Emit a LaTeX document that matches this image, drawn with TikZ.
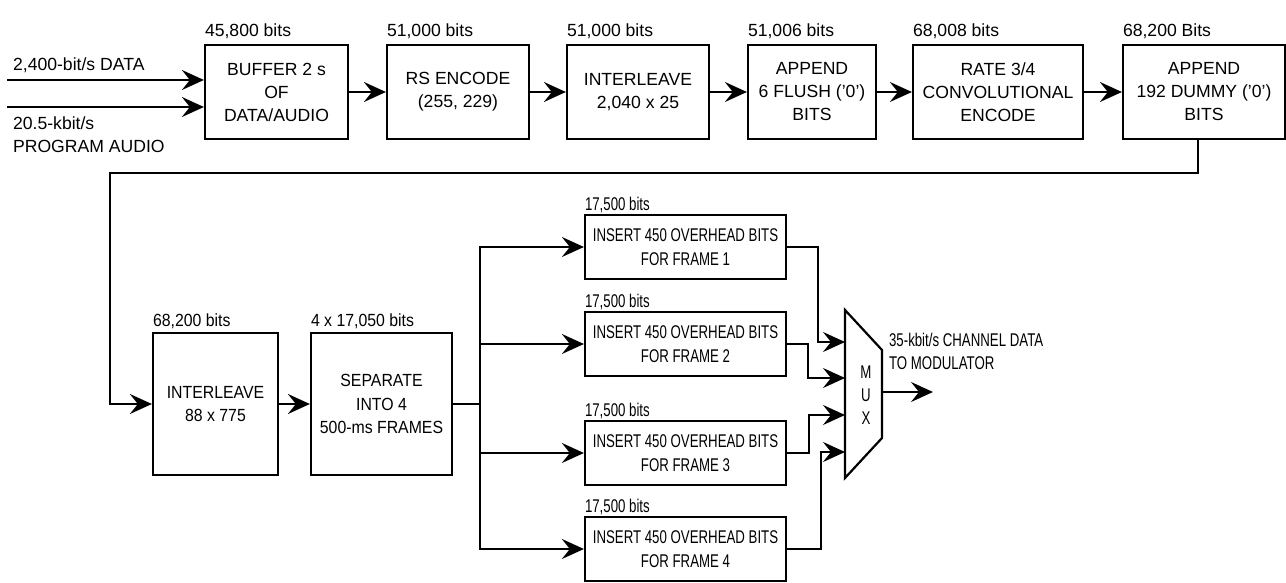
\documentclass[tikz,border=0pt]{standalone}
\usepackage{fontspec}
\setmainfont{Liberation Sans}
\newfontfamily\midfont[FakeStretch=0.9]{Liberation Sans}
\newfontfamily\narrowfont[FakeStretch=0.72]{Liberation Sans}
\usetikzlibrary{arrows.meta}

\begin{document}
\begin{tikzpicture}[x=0.5pt, y=-0.5pt, line width=1.1pt, font=\fontsize{8.8}{11.5}\selectfont,
	block/.style={draw, align=center, inner sep=0pt, minimum height=47pt},
	midblock/.style={block, minimum height=71pt, font=\midfont\fontsize{8.8}{11.7}\selectfont},
	insblock/.style={block, minimum width=100.5pt, minimum height=32pt, font=\narrowfont\fontsize{9.2}{12}\selectfont},
	bitlabel/.style={anchor=south west, inner sep=0pt, yshift=2pt},
	flow/.style={-{Stealth[length=11pt,width=10pt,inset=4pt]}}]
	\useasboundingbox (0,0) rectangle (1286,583);
	% first row
	\node[block, minimum width=71.5pt] (buf) at (276.5,92) {BUFFER 2 s\\OF\\DATA/AUDIO};
	\node[block, minimum width=71pt] (rs) at (458,92) {RS ENCODE\\(255, 229)};
	\node[block, minimum width=71pt] (il1) at (638,92) {INTERLEAVE\\2,040 x 25};
	\node[block, minimum width=64pt] (flush) at (812,92) {APPEND\\6 FLUSH ('0')\\BITS};
	\node[block, minimum width=85pt] (conv) at (998,92) {RATE 3/4\\CONVOLUTIONAL\\ENCODE};
	\node[block, minimum width=81pt] (dummy) at (1204,92) {APPEND\\192 DUMMY ('0')\\BITS};
	\node[bitlabel] (lbuf) at (buf.north west) {45,800 bits};
	\node[bitlabel] (lrs) at (rs.north west) {51,000 bits};
	\node[bitlabel] (lil1) at (il1.north west) {51,000 bits};
	\node[bitlabel] (lflush) at (flush.north west) {51,006 bits};
	\node[bitlabel] (lconv) at (conv.north west) {68,008 bits};
	\node[bitlabel] (ldummy) at (dummy.north west) {68,200 Bits};
	\coordinate (indata) at (7,80);
	\coordinate (inaudio) at (7,107);
	\node[anchor=west, inner sep=0pt] (tdata) at (12,65) {2,400-bit/s DATA};
	\node[anchor=north west, inner sep=0pt, align=left] (taudio) at (12,116) {20.5-kbit/s\\PROGRAM AUDIO};
	\draw[flow] (indata) -- (indata -| buf.west);
	\draw[flow] (inaudio) -- (inaudio -| buf.west);
	\draw[flow] (buf) -- (rs);
	\draw[flow] (rs) -- (il1);
	\draw[flow] (il1) -- (flush);
	\draw[flow] (flush) -- (conv);
	\draw[flow] (conv) -- (dummy);
	% second row
	\node[midblock, minimum width=62.5pt] (il2) at (215.5,404) {INTERLEAVE\\88 x 775};
	\node[midblock, minimum width=70.5pt] (sep) at (381.5,404) {SEPARATE\\INTO 4\\500-ms FRAMES};
	\node[bitlabel, yshift=-1pt, font=\midfont\fontsize{8.8}{11.5}\selectfont] (lil2) at (il2.north west) {68,200 bits};
	\node[bitlabel, yshift=-1pt, font=\midfont\fontsize{8.8}{11.5}\selectfont] (lsep) at (sep.north west) {4 x 17,050 bits};
	\coordinate (back) at (110,173);
	\draw[flow] ([xshift=-3pt]dummy.south) |- (back) |- (il2.west);
	\draw[flow] (il2) -- (sep);
	\node[insblock] (ins1) at (685.5,247) {INSERT 450 OVERHEAD BITS\\FOR FRAME 1};
	\node[insblock] (ins2) at (685.5,344) {INSERT 450 OVERHEAD BITS\\FOR FRAME 2};
	\node[insblock] (ins3) at (685.5,453) {INSERT 450 OVERHEAD BITS\\FOR FRAME 3};
	\node[insblock] (ins4) at (685.5,549) {INSERT 450 OVERHEAD BITS\\FOR FRAME 4};
	\node[bitlabel, yshift=-1.8pt, font=\narrowfont\fontsize{9.2}{11.5}\selectfont] (lins1) at (ins1.north west) {17,500 bits};
	\node[bitlabel, yshift=-1.8pt, font=\narrowfont\fontsize{9.2}{11.5}\selectfont] (lins2) at (ins2.north west) {17,500 bits};
	\node[bitlabel, yshift=-1.8pt, font=\narrowfont\fontsize{9.2}{11.5}\selectfont] (lins3) at (ins3.north west) {17,500 bits};
	\node[bitlabel, yshift=-1.8pt, font=\narrowfont\fontsize{9.2}{11.5}\selectfont] (lins4) at (ins4.north west) {17,500 bits};
	\coordinate (bus) at (480,404);
	\draw (sep) -- (bus);
	\draw[flow] (bus) |- (ins1);
	\draw[flow] (bus) |- (ins2);
	\draw[flow] (bus) |- (ins3);
	\draw[flow] (bus) |- (ins4);
	% multiplexer
	\node[inner sep=0pt, align=center, font=\narrowfont\fontsize{9.2}{11.5}\selectfont] (mux) at (866,395) {M\\U\\X};
	\draw (845,310) -- (882,350) -- (882,438) -- (845,478) -- cycle;
	\coordinate (min1) at (845,342);
	\coordinate (min2) at (845,378);
	\coordinate (min3) at (845,415);
	\coordinate (min4) at (845,452);
	\coordinate (mout) at (882,392);
	\coordinate (out) at (933,392);
	\draw[flow] (ins1.east) -- ++(31,0) |- (min1);
	\draw[flow] (ins2.east) -- ++(21,0) |- (min2);
	\draw[flow] (ins3.east) -- ++(22,0) |- (min3);
	\draw[flow] (ins4.east) -- ++(34,0) |- (min4);
	\draw[flow] (mout) -- (out);
	\node[anchor=west, inner sep=0pt, align=left, font=\narrowfont\fontsize{9.2}{11.5}\selectfont] (tout) at (888,351) {35-kbit/s CHANNEL DATA\\TO MODULATOR};
\end{tikzpicture}
\end{document}
